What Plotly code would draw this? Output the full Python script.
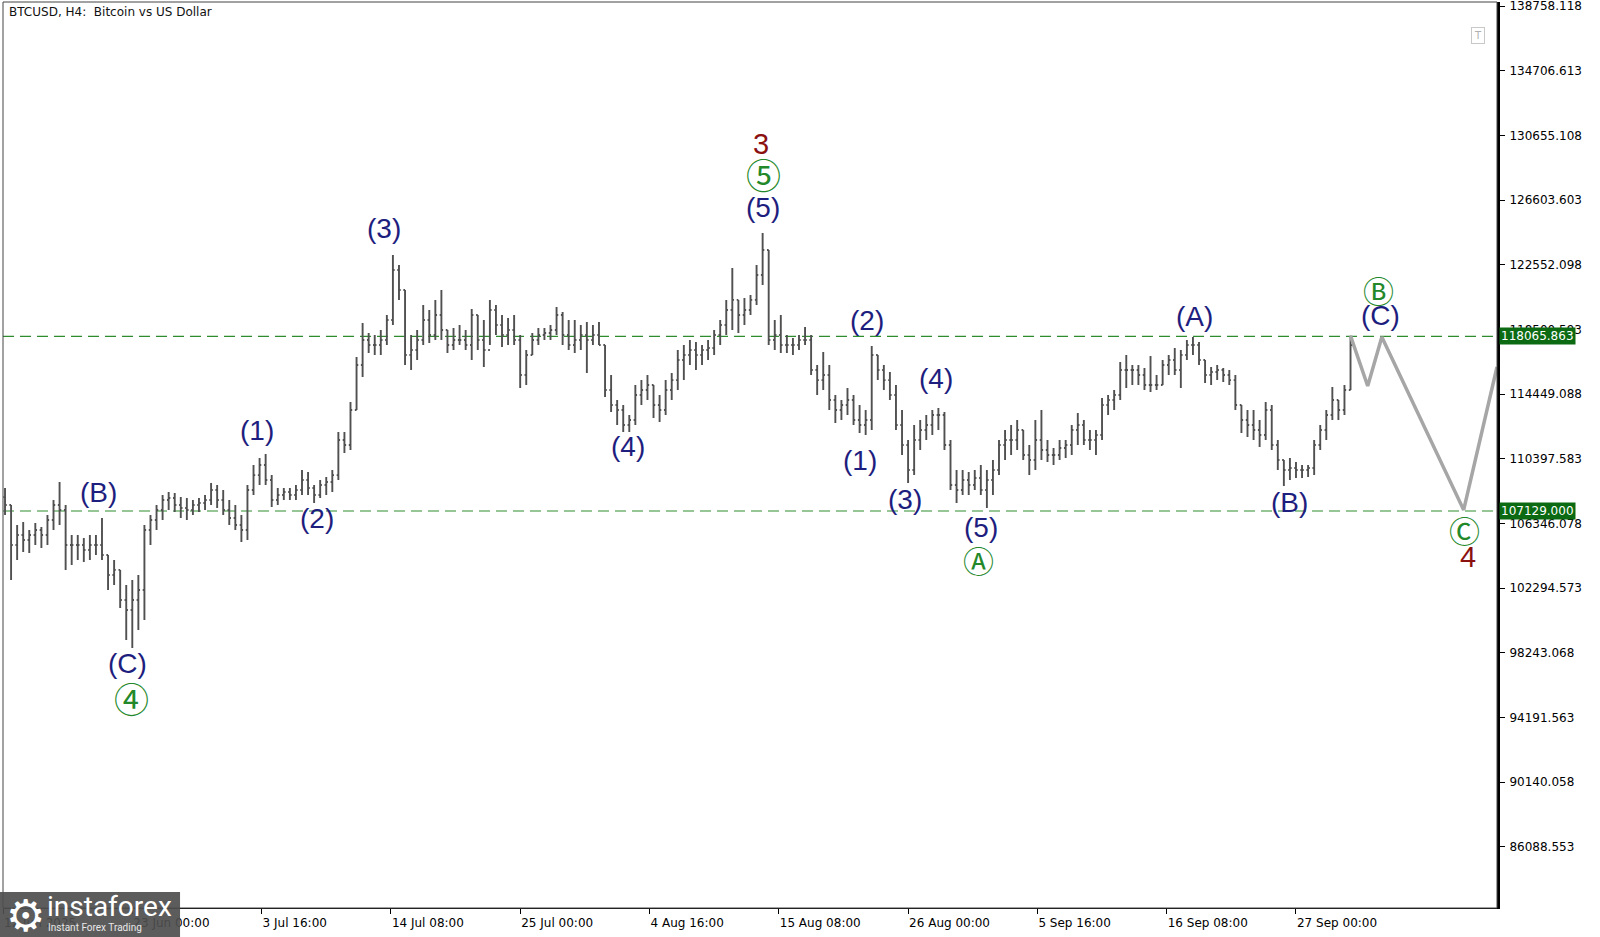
"""BTCUSD H4 Elliott-wave chart, MT4 look, rebuilt with Plotly."""

import pandas as pd
import plotly.graph_objects as go

# ── price data (12h bars) ──────────────────────────────────────────────────
bar_start = "2025-06-12 12:00"

highs = [
    108570, 107510, 106250, 106440, 105940, 106380, 106130, 106880, 107820, 108950,
    107510, 105630, 105630, 105440, 105630, 105630, 106690, 104370, 104060, 103440,
    102500, 102810, 103120, 106250, 106880, 107510, 108130, 108320, 108260, 108010,
    107940, 107820, 107940, 108130, 108880, 108760, 108450, 107820, 107510, 106880,
    108760, 110010, 110450, 110700, 109380, 108570, 108570, 108570, 108760, 109700,
    109570, 108760, 109070, 109260, 109700, 112080, 112080, 113960, 116780, 118910,
    118280, 118150, 118470, 119410, 123160, 122540, 120970, 118150, 118470, 120030,
    119720, 120350, 120970, 118470, 118590,
    118780, 118470, 119780, 119410,
    119090, 120350, 120030, 119410, 119220, 119410, 118150, 117210, 118280, 118590,
    118590, 118780, 119910, 119590, 119090, 119090, 118780, 118970, 118780, 118970,
    117530, 115650, 114080, 113770, 113140, 115020, 115330, 115650, 115020, 114400,
    115330, 115770, 117210, 117530, 117840, 117720, 117530, 117840, 118470, 119090,
    120350, 122350, 120350, 120470, 120660, 122540, 124540, 123480, 119090, 119410,
    118150, 117960, 118150, 118650, 118150, 116270, 117090, 116270, 114400, 114080,
    114830, 114400, 113770, 113460, 117460, 116900, 116270, 115840, 115020, 113460,
    111580, 112520, 112830, 113140, 113460, 113580, 113330, 111580, 109700, 109700,
    109570, 109700, 110010, 109700, 110320, 111580, 112200, 112520, 112830, 112200,
    111260, 112830, 113460, 111580, 111080, 111580, 111580, 112520, 113270, 112830,
    112200, 112200, 114210, 114400, 114710, 116460, 116900, 116270,
    116270, 116080, 116840, 115650, 116590, 116900, 117340, 117210, 117840, 118030, 117720,
    116590, 116150, 116270, 116080, 115960, 115650, 113770, 113460, 113460, 112830,
    113960, 113770, 111580, 110320, 110450, 110200, 110010, 110010, 111580, 112520,
    113460, 114900, 114080, 115020, 118100,
]

lows = [
    106880, 102810, 104060, 104560, 104500, 105000, 104810, 105000, 105940, 106250,
    103440, 103750, 104060, 103940, 104060, 104370, 104060, 102180, 102500, 101060,
    99050, 98550, 99680, 100300, 105000, 105940, 106570, 107190, 107070, 106690,
    106570, 106880, 107070, 107190, 107510, 107320, 106880, 106250, 105940, 105190,
    105310, 108130, 108760, 108760, 107380, 107510, 107820, 107820, 107820, 108130,
    108130, 107630, 107940, 108130, 108320, 109070, 110760, 110950, 113460, 115520,
    117030, 116900, 116900, 117530, 118780, 120350, 116270, 115960, 116590, 117530,
    117650, 117840, 117840, 117030, 117210,
    117530, 117210, 116590, 117210,
    116150, 117530, 118150, 117400, 117530, 117530, 114830, 115020, 116900, 117530,
    117840, 117840, 118150, 117530, 117210, 117030, 117210, 115770, 117530, 117530,
    114270, 113330, 112520, 112080, 112080, 112520, 113770, 114080, 112960, 112700,
    113140, 114080, 114710, 115330, 116270, 115960, 116270, 116590, 116900, 117530,
    118150, 118470, 118280, 118780, 119410, 120030, 121280, 117530, 117210, 117030,
    117030, 116900, 117210, 117530, 115650, 114400, 114710, 113460, 112640, 112830,
    113140, 112520, 112010, 111890, 112200, 115330, 114710, 114080, 112200, 110640,
    108880, 109380, 110950, 111580, 111890, 112200, 110950, 108450, 107630, 108130,
    108130, 108450, 108130, 107320, 108130, 109380, 110320, 110640, 110950, 110320,
    109380, 109700, 110320, 110200, 110010, 110320, 110450, 110640, 111260, 111260,
    110950, 110640, 111580, 113140, 113460, 114080, 114830, 115020,
    115020, 114710, 114580, 114710, 115020, 115650, 115650, 114830, 116590, 116900, 116270,
    115150, 115020, 115330, 115210, 115020, 113460, 112010, 111770, 111580, 111140,
    111580, 110950, 109700, 108700, 109070, 109200, 109200, 109260, 109380, 110950,
    111580, 112830, 112830, 113140, 114710,
]

closes = [
    107510, 105000, 105630, 105310, 105630, 105940, 105630, 106570, 107510, 107190,
    105000, 105000, 105000, 104690, 105000, 105000, 104370, 103120, 103440, 101560,
    100930, 101560, 102180, 105940, 106570, 107190, 107820, 107940, 107510, 107320,
    107190, 107510, 107630, 107820, 108450, 107820, 107190, 106690, 106250, 105940,
    108450, 109380, 110010, 109070, 107820, 108130, 108320, 108130, 108450, 109070,
    108570, 108130, 108760, 108950, 109380, 111580, 111260, 113460, 116270, 117840,
    117530, 117530, 117840, 119090, 122220, 120970, 116900, 117210, 117840, 119090,
    118150, 119410, 118470, 117530, 117840,
    117840, 117530, 119410, 117840,
    117210, 119720, 118780, 118150, 118470, 117840, 115650, 116900, 117840, 118150,
    118280, 118470, 119410, 118150, 117530, 117840, 118150, 117840, 118150, 117530,
    114710, 113770, 113460, 112520, 112830, 114400, 114710, 115020, 113770, 113460,
    114710, 115330, 116590, 116900, 117210, 116900, 117210, 117340, 118150, 118780,
    119720, 120350, 119410, 119720, 120350, 121910, 123480, 117840, 118150, 117530,
    117530, 117530, 117840, 117840, 115960, 115330, 115650, 114080, 113460, 113770,
    114080, 112830, 112520, 112830, 116900, 115960, 115330, 114400, 112520, 111260,
    109700, 111580, 112200, 112520, 113140, 113140, 111260, 108760, 108450, 109070,
    108760, 109200, 108450, 109070, 109700, 111260, 111580, 111580, 112200, 110640,
    110320, 111580, 110950, 110640, 110640, 111080, 111260, 112200, 112520, 111580,
    111580, 111890, 113770, 114080, 114400, 115960, 115960, 115960,
    115650, 115020, 115020, 115020, 116270, 116590, 115960, 116900, 117530, 117530, 116590,
    115650, 115840, 115960, 115650, 115330, 113770, 112830, 112520, 112200, 111890,
    113460, 111260, 110320, 109700, 109820, 109700, 109700, 109820, 111260, 112200,
    113140, 114080, 113460, 114710, 117530,
]
first_open = 108000

# forecast path (grey zig-zag)
path_time = ["2025-10-01 12:00", "2025-10-02 22:00", "2025-10-04 02:00",
             "2025-10-10 20:00", "2025-10-13 14:00"]
path_price = [118100, 114960, 118030, 107200, 116150]

# horizontal levels
levels = [118065.863, 107129.000]

# wave labels
wave_text = ["(B)", "(C)", "④", "(1)", "(2)", "(3)", "(4)", "(5)", "⑤", "3",
             "(1)", "(2)", "(3)", "(4)", "(5)", "Ⓐ",
             "(A)", "(B)", "(C)", "Ⓑ", "Ⓒ", "4"]
wave_time = ["2025-06-20 04:40", "2025-06-22 14:00", "2025-06-22 22:00",
             "2025-07-03 07:00", "2025-07-08 06:00", "2025-07-13 18:40",
             "2025-08-02 21:40", "2025-08-14 01:00", "2025-08-14 01:00",
             "2025-08-13 21:00",
             "2025-08-22 01:00", "2025-08-22 14:40", "2025-08-25 18:00",
             "2025-08-28 07:20", "2025-09-01 00:00", "2025-08-31 20:00",
             "2025-09-18 16:00", "2025-09-26 12:00", "2025-10-04 00:00",
             "2025-10-03 20:00", "2025-10-10 22:20", "2025-10-11 04:00"]
wave_price = [108320, 97610, 95420, 112200, 106630, 124850, 111140, 126170,
              128240, 130120,
              110320, 119090, 107820, 115400, 106070, 104120,
              119340, 107690, 119400, 121030, 106000, 104250]
wave_kind = ["minor", "minor", "circ", "minor", "minor", "minor", "minor",
             "minor", "circ", "major",
             "minor", "minor", "minor", "minor", "minor", "letter",
             "minor", "minor", "minor", "letter", "letter", "major"]

# axes
y_ticks = [86088.553, 90140.058, 94191.563, 98243.068, 102294.573, 106346.078,
           110397.583, 114449.088, 118500.593, 122552.098, 126603.603,
           130655.108, 134706.613, 138758.118]
x_ticks = ["2025-06-12 08:00", "2025-06-23 00:00", "2025-07-03 16:00",
           "2025-07-14 08:00", "2025-07-25 00:00", "2025-08-04 16:00",
           "2025-08-15 08:00", "2025-08-26 00:00", "2025-09-05 16:00",
           "2025-09-16 08:00", "2025-09-27 00:00"]
x_tick_text = ["12 Jun 2025", "23 Jun 00:00", "3 Jul 16:00", "14 Jul 08:00",
               "25 Jul 00:00", "4 Aug 16:00", "15 Aug 08:00", "26 Aug 00:00",
               "5 Sep 16:00", "16 Sep 08:00", "27 Sep 00:00"]
x_range = ["2025-06-12 08:00", "2025-10-13 14:00"]
y_range = [82266, 139009]

# ── styling ────────────────────────────────────────────────────────────────
BAR_GREY = "#505050"
NAVY = "#1e1e7e"
DARK_RED = "#8b1010"
WAVE_GREEN = "#23882a"
LEVEL_GREEN = "#2e8b2e"
AXIS_FONT = "DejaVu Sans"
LABEL_FONT = "Liberation Sans, Arial"
CIRCLE_FONT = "Noto Sans CJK JP, DejaVu Sans"

times = pd.date_range(bar_start, periods=len(closes), freq="12h")
opens = [first_open] + closes[:-1]

fig = go.Figure()
fig.add_trace(
    go.Ohlc(
        x=times,
        open=opens,
        high=highs,
        low=lows,
        close=closes,
        increasing=dict(line=dict(color=BAR_GREY, width=1.9)),
        decreasing=dict(line=dict(color=BAR_GREY, width=1.9)),
        tickwidth=0.28,
        hoverinfo="skip",
        showlegend=False,
    )
)
fig.add_trace(
    go.Scatter(
        x=path_time,
        y=path_price,
        mode="lines",
        line=dict(color="#a6a6a6", width=3.5),
        hoverinfo="skip",
        showlegend=False,
        cliponaxis=True,
    )
)

for lvl in levels:
    fig.add_shape(type="line", xref="paper", x0=0, x1=1, yref="y", y0=lvl, y1=lvl,
                  line=dict(color=LEVEL_GREEN, width=1.2, dash="11px,6px"), layer="below")
    fig.add_annotation(xref="paper", x=1, xanchor="left", xshift=2, yref="y", y=lvl,
                       yanchor="middle", text=f"{lvl:.3f}", showarrow=False,
                       bgcolor="#0b6a12", borderpad=1,
                       font=dict(family=AXIS_FONT, size=12, color="white"))

styles = {
    "minor": dict(family=LABEL_FONT, size=28, color=NAVY),
    "major": dict(family=LABEL_FONT, size=29, color=DARK_RED),
    "circ": dict(family=CIRCLE_FONT, size=35, color=WAVE_GREEN),
    "letter": dict(family=CIRCLE_FONT, size=31, color=WAVE_GREEN),
}
for txt, t, p, kind in zip(wave_text, wave_time, wave_price, wave_kind):
    fig.add_annotation(x=t, y=p, text=txt, showarrow=False, xanchor="center",
                       yanchor="middle", font=styles[kind])

# chart frame
fig.add_shape(type="rect", xref="paper", yref="paper", x0=0, x1=1, y0=0, y1=1,
              line=dict(color="#444444", width=1))

# title & small widgets
fig.add_annotation(xref="paper", yref="paper", x=0.0027, y=0.9895, xanchor="left",
                   yanchor="middle", text="BTCUSD, H4:  Bitcoin vs US Dollar",
                   showarrow=False, font=dict(family=AXIS_FONT, size=12, color="#111111"))
fig.add_annotation(xref="paper", yref="paper", x=0.9873, y=0.9635, xanchor="center",
                   yanchor="middle", text="T", showarrow=False, bordercolor="#c8c8c8",
                   borderwidth=1, borderpad=2, bgcolor="white",
                   font=dict(family=AXIS_FONT, size=10, color="#b0b0b0"))

# watermark logo bottom-left
fig.add_shape(type="rect", xref="paper", yref="paper", x0=-0.003, x1=0.1185,
              y0=-0.032, y1=0.0177, fillcolor="#4e4e4e", line=dict(width=0),
              opacity=0.92)
fig.add_annotation(xref="paper", yref="paper", x=0.0005, y=-0.008, xanchor="left",
                   yanchor="middle", text="⚙", showarrow=False,
                   font=dict(family="DejaVu Sans", size=44, color="white"))
fig.add_annotation(xref="paper", yref="paper", x=0.028, y=0.0015, xanchor="left",
                   yanchor="middle", text="instaforex", showarrow=False,
                   font=dict(family="Roboto, DejaVu Sans", size=28, color="white"))
fig.add_annotation(xref="paper", yref="paper", x=0.029, y=-0.021, xanchor="left",
                   yanchor="middle", text="Instant Forex Trading", showarrow=False,
                   font=dict(family="Roboto, DejaVu Sans", size=10, color="#e8e8e8"))

fig.update_layout(
    width=1600,
    height=937,
    margin=dict(l=3, r=103, t=2, b=29, autoexpand=False),
    paper_bgcolor="white",
    plot_bgcolor="white",
    showlegend=False,
    xaxis=dict(
        type="date",
        range=x_range,
        automargin=False,
        rangeslider=dict(visible=False),
        showgrid=False,
        zeroline=False,
        tickvals=x_ticks,
        ticktext=x_tick_text,
        ticks="outside",
        ticklen=5,
        tickcolor="black",
        ticklabelposition="outside right",
        ticklabelstandoff=4,
        tickfont=dict(family=AXIS_FONT, size=12, color="black"),
        showline=True,
        linecolor="black",
        linewidth=1,
    ),
    yaxis=dict(
        side="right",
        range=y_range,
        automargin=False,
        showgrid=False,
        zeroline=False,
        tickvals=y_ticks,
        ticktext=[f"{v:.3f}" for v in y_ticks],
        ticks="outside",
        ticklen=5,
        tickcolor="black",
        ticklabelstandoff=2,
        ticklabeloverflow="allow",
        tickfont=dict(family=AXIS_FONT, size=12, color="black"),
        showline=True,
        linecolor="black",
        linewidth=3,
    ),
)

# the page's default body margin would shift the chart by 8px
fig.write_html(
    "out.html",
    config={"displayModeBar": False},
    post_script="document.body.style.margin='0';document.body.style.overflow='hidden';",
)
